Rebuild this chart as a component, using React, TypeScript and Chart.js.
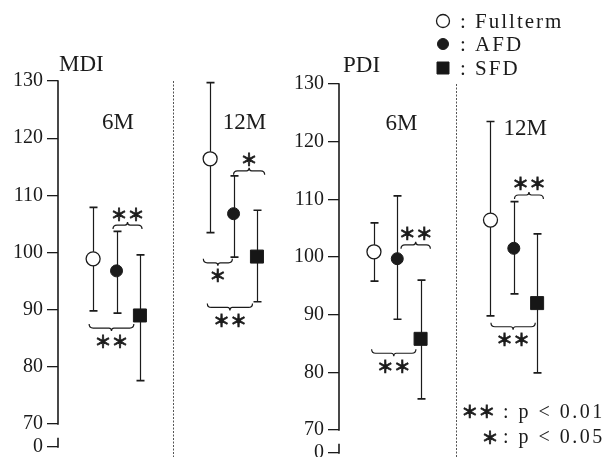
import React, { useEffect, useRef } from 'react';
import { Chart, registerables } from 'chart.js';

Chart.register(...registerables);

// ---------- data ----------
const SERIES = ['Fullterm', 'AFD', 'SFD'];
const GROUPS = ['6M', '12M'];
const GROUP_X = [2, 7]; // x-scale position of the middle series in each age group
const SERIES_OFFSET = [-1, 0, 1];
const Y_TICKS = [66, 70, 80, 90, 100, 110, 120, 130];
const Y_TICK_LABELS = ['0', '70', '80', '90', '100', '110', '120', '130'];

// [mean, lower, upper] for 6M and 12M
const MDI_FULLTERM = [[98.9, 89.8, 107.9], [116.4, 103.5, 129.7]];
const MDI_AFD = [[96.8, 89.4, 103.7], [106.8, 99.2, 113.4]];
const MDI_SFD = [[89.0, 77.6, 99.6], [99.3, 91.4, 107.4]];
const PDI_FULLTERM = [[100.9, 95.8, 105.9], [106.4, 89.8, 123.5]];
const PDI_AFD = [[99.7, 89.2, 110.6], [101.5, 93.6, 109.6]];
const PDI_SFD = [[85.8, 75.4, 96.0], [92.0, 79.9, 104.0]];

// significance brackets: [x from, x to, level, label, side]
const MDI_BRACKETS: [number, number, number, string, string][] = [
  [1.85, 3.09, 104.8, '＊＊', 'above'],
  [0.83, 2.74, 86.8, '＊＊', 'below'],
  [7.0, 8.33, 114.3, '＊', 'above'],
  [5.71, 6.95, 98.2, '＊', 'below'],
  [5.88, 7.81, 90.4, '＊＊', 'below'],
];
const PDI_BRACKETS: [number, number, number, string, string][] = [
  [2.16, 3.42, 102.1, '＊＊', 'above'],
  [0.9, 2.8, 83.3, '＊＊', 'below'],
  [7.03, 8.27, 110.75, '＊＊', 'above'],
  [6.02, 7.92, 87.9, '＊＊', 'below'],
];

const NOTE_STARS = ['＊＊', '＊'];
const NOTE_TEXT = [': p < 0.01', ': p < 0.05'];

// ---------- styles ----------
const INK = '#1b1b1b';
const FONT = '"Liberation Serif", "Times New Roman", serif';
const STAR_FONT = '"Noto Sans CJK JP", "DejaVu Sans", sans-serif';

const SERIES_STYLE = [
  { pointStyle: 'circle', pointRadius: 7, backgroundColor: '#ffffff', borderColor: INK, borderWidth: 1.3 },
  { pointStyle: 'circle', pointRadius: 6, backgroundColor: INK, borderColor: INK, borderWidth: 1 },
  { pointStyle: 'rect', pointRadius: 9.2, backgroundColor: '#161616', borderColor: INK, borderWidth: 1 },
];

type PanelCfg = {
  title: string;
  series: number[][][];
  brackets: [number, number, number, string, string][];
  left: number;
  width: number;
  axisWidth: number;
  padTop: number;
  padBottom: number;
  xMax: number;
  dividerX: number;
  titleDx: number;
  titleBaseline: number;
  groupLabelX: number[];
  groupLabelBaseline: number[];
  legend?: boolean;
};

function drawStars(ctx: CanvasRenderingContext2D, s: string, x: number, y: number) {
  ctx.font = `bold 17px ${STAR_FONT}`;
  ctx.textAlign = 'center';
  ctx.textBaseline = 'middle';
  ctx.lineWidth = 0.7;
  ctx.strokeStyle = INK;
  ctx.fillText(s, x, y);
  ctx.strokeText(s, x, y);
}

function makeDecor(cfg: PanelCfg) {
  return {
    id: 'decor',
    beforeDatasetsDraw(chart: any) {
      const { ctx, chartArea } = chart;
      const xs = chart.scales.x;
      const ys = chart.scales.y;
      ctx.save();
      ctx.strokeStyle = INK;
      // axis line (broken between 70 and 0)
      const ax = chartArea.left;
      ctx.lineWidth = 1.6;
      ctx.beginPath();
      ctx.moveTo(ax, ys.getPixelForValue(130) - 0.7);
      ctx.lineTo(ax, ys.getPixelForValue(70) + 0.7);
      ctx.moveTo(ax, ys.getPixelForValue(66) + 0.7);
      ctx.lineTo(ax, ys.getPixelForValue(67.6));
      ctx.stroke();

      // dotted divider between age groups
      const dx = Math.round(xs.getPixelForValue(cfg.dividerX)) + 0.5;
      ctx.save();
      ctx.setLineDash([2, 1.5]);
      ctx.strokeStyle = '#555';
      ctx.lineWidth = 1;
      ctx.beginPath();
      ctx.moveTo(dx, ys.getPixelForValue(130));
      ctx.lineTo(dx, chart.height);
      ctx.stroke();
      ctx.restore();

      // error bars
      chart.data.datasets.forEach((ds: any) => {
        ds.data.forEach((p: any) => {
          const px = Math.round(xs.getPixelForValue(p.x)) + 0.5;
          const top = ys.getPixelForValue(p.high);
          const bot = ys.getPixelForValue(p.low);
          ctx.lineWidth = 1.2;
          ctx.beginPath();
          ctx.moveTo(px, top);
          ctx.lineTo(px, bot);
          ctx.stroke();
          ctx.lineWidth = 1.7;
          ctx.beginPath();
          ctx.moveTo(px - 4, top);
          ctx.lineTo(px + 4, top);
          ctx.moveTo(px - 4, bot);
          ctx.lineTo(px + 4, bot);
          ctx.stroke();
        });
      });

      // significance brackets
      ctx.lineWidth = 1.2;
      cfg.brackets.forEach(([a, b, lvl, , side]) => {
        const x1 = xs.getPixelForValue(a);
        const x2 = xs.getPixelForValue(b);
        const yb = ys.getPixelForValue(lvl);
        const d = side === 'above' ? 1 : -1; // hooks point toward the data
        const xm = (x1 + x2) / 2;
        ctx.beginPath();
        ctx.moveTo(x1, yb + 4 * d);
        ctx.quadraticCurveTo(x1, yb, x1 + 4, yb);
        ctx.lineTo(xm - 2.5, yb);
        ctx.quadraticCurveTo(xm, yb, xm, yb - 3 * d);
        ctx.quadraticCurveTo(xm, yb, xm + 2.5, yb);
        ctx.lineTo(x2 - 4, yb);
        ctx.quadraticCurveTo(x2, yb, x2, yb + 4 * d);
        ctx.stroke();
      });
      ctx.restore();
    },
    afterDraw(chart: any) {
      const { ctx, chartArea } = chart;
      const xs = chart.scales.x;
      const ys = chart.scales.y;
      ctx.save();
      ctx.fillStyle = INK;
      ctx.textBaseline = 'alphabetic';
      // panel title
      ctx.font = `23px ${FONT}`;
      ctx.textAlign = 'left';
      ctx.fillText(cfg.title, chartArea.left + cfg.titleDx, cfg.titleBaseline);
      // age group labels
      ctx.textAlign = 'center';
      GROUPS.forEach((g, i) => {
        ctx.fillText(g, xs.getPixelForValue(cfg.groupLabelX[i]), cfg.groupLabelBaseline[i]);
      });
      // bracket labels
      cfg.brackets.forEach(([a, b, lvl, label, side]) => {
        const xm = (xs.getPixelForValue(a) + xs.getPixelForValue(b)) / 2;
        const yb = ys.getPixelForValue(lvl);
        drawStars(ctx, label, xm, side === 'above' ? yb - 11 : yb + 13);
      });

      if (cfg.legend) {
        // legend
        const mx = 161;
        const rows = [21, 44, 68];
        const base = [28, 51, 75];
        chart.data.datasets.forEach((ds: any, i: number) => {
          const y = rows[i];
          ctx.lineWidth = ds.borderWidth;
          ctx.strokeStyle = ds.borderColor;
          ctx.fillStyle = ds.backgroundColor;
          ctx.beginPath();
          if (ds.pointStyle === 'rect') {
            ctx.rect(mx - 6, y - 6, 12, 12);
          } else {
            ctx.arc(mx, y, ds.pointRadius - 0.5, 0, Math.PI * 2);
          }
          ctx.fill();
          ctx.stroke();
          ctx.fillStyle = INK;
          ctx.font = `21px ${FONT}`;
          (ctx as any).letterSpacing = '2px';
          ctx.textAlign = 'left';
          ctx.textBaseline = 'alphabetic';
          ctx.fillText(': ' + ds.label, 178, base[i]);
          (ctx as any).letterSpacing = '0px';
        });
        // significance notes
        const starX = [196.3, 208];
        const starY = [411.7, 437.3];
        const noteBase = [418.3, 443.3];
        NOTE_STARS.forEach((s, i) => {
          drawStars(ctx, s, starX[i], starY[i]);
          ctx.font = `20px ${FONT}`;
          (ctx as any).letterSpacing = '2.5px';
          ctx.textAlign = 'left';
          ctx.textBaseline = 'alphabetic';
          ctx.fillText(NOTE_TEXT[i], 221, noteBase[i]);
          (ctx as any).letterSpacing = '0px';
        });
      }
      ctx.restore();
    },
  };
}

function Panel({ cfg }: { cfg: PanelCfg }) {
  const ref = useRef<HTMLCanvasElement | null>(null);
  useEffect(() => {
    if (!ref.current) return;
    const datasets = cfg.series.map((rows, si) => ({
      label: SERIES[si],
      data: rows.map((r, gi) => ({ x: GROUP_X[gi] + SERIES_OFFSET[si], y: r[0], low: r[1], high: r[2] })),
      showLine: false,
      ...SERIES_STYLE[si],
    }));
    const chart = new Chart(ref.current, {
      type: 'scatter',
      data: { datasets: datasets as any },
      options: {
        animation: false,
        responsive: false,
        devicePixelRatio: 1,
        events: [],
        layout: { autoPadding: false, padding: { top: cfg.padTop, bottom: cfg.padBottom, left: 0, right: 0 } },
        plugins: { legend: { display: false }, tooltip: { enabled: false } },
        scales: {
          x: { type: 'linear', display: false, min: -0.5, max: cfg.xMax },
          y: {
            type: 'linear',
            min: 66,
            max: 130,
            afterBuildTicks: (scale: any) => {
              scale.ticks = Y_TICKS.map((v) => ({ value: v }));
            },
            afterFit: (scale: any) => {
              scale.width = cfg.axisWidth;
              scale.paddingTop = 0;
              scale.paddingBottom = 0;
            },
            border: { display: false },
            grid: {
              drawOnChartArea: false,
              drawTicks: true,
              tickLength: 11,
              tickColor: INK,
              tickWidth: 1.3,
              color: INK,
              lineWidth: 1.3,
            },
            ticks: {
              autoSkip: false,
              padding: 4,
              color: INK,
              font: { family: FONT, size: 20 },
              callback: (v: any) => Y_TICK_LABELS[Y_TICKS.indexOf(Number(v))] ?? '',
            },
          },
        },
      },
      plugins: [makeDecor(cfg)],
    });
    return () => chart.destroy();
  }, [cfg]);
  return (
    <canvas
      ref={ref}
      width={cfg.width}
      height={457}
      style={{ position: 'absolute', left: cfg.left, top: 0, width: cfg.width, height: 457 }}
    />
  );
}

const LEFT: PanelCfg = {
  title: 'MDI',
  series: [MDI_FULLTERM, MDI_AFD, MDI_SFD],
  brackets: MDI_BRACKETS,
  left: 0,
  width: 282,
  axisWidth: 58,
  padTop: 81,
  padBottom: 10,
  xMax: 9.07,
  dividerX: 4.43,
  titleDx: 1,
  titleBaseline: 71,
  groupLabelX: [2.06, 7.47],
  groupLabelBaseline: [129, 129],
};

const RIGHT: PanelCfg = {
  title: 'PDI',
  series: [PDI_FULLTERM, PDI_AFD, PDI_SFD],
  brackets: PDI_BRACKETS,
  left: 282,
  width: 322,
  axisWidth: 57,
  padTop: 84,
  padBottom: 4,
  xMax: 10.87,
  dividerX: 4.5,
  titleDx: 4,
  titleBaseline: 72,
  groupLabelX: [2.18, 7.49],
  groupLabelBaseline: [130, 135],
  legend: true,
};

export default function App() {
  return (
    <div style={{ position: 'fixed', left: 0, top: 0, width: 604, height: 457, background: '#fff', overflow: 'hidden' }}>
      <Panel cfg={LEFT} />
      <Panel cfg={RIGHT} />
    </div>
  );
}
